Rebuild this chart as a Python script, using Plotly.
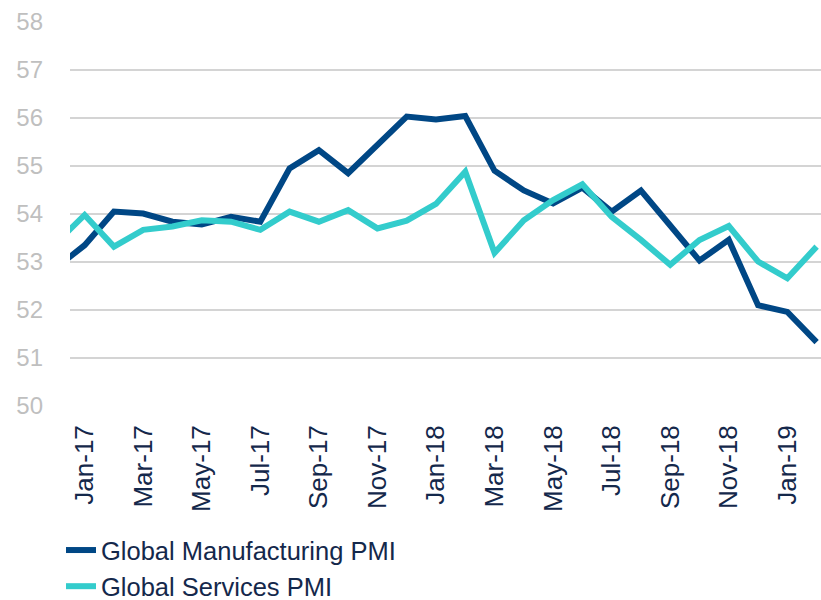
import plotly.graph_objects as go

months = ["Dec-16", "Jan-17", "Feb-17", "Mar-17", "Apr-17", "May-17", "Jun-17", "Jul-17",
          "Aug-17", "Sep-17", "Oct-17", "Nov-17", "Dec-17", "Jan-18", "Feb-18", "Mar-18",
          "Apr-18", "May-18", "Jun-18", "Jul-18", "Aug-18", "Sep-18", "Oct-18", "Nov-18",
          "Dec-18", "Jan-19", "Feb-19"]

manufacturing = [52.87, 53.35, 54.05, 54.01, 53.84, 53.78, 53.94, 53.84,
                 54.95, 55.33, 54.85, 55.44, 56.03, 55.97, 56.04, 54.90,
                 54.49, 54.22, 54.55, 54.05, 54.49, 53.76, 53.03, 53.46,
                 52.10, 51.96, 51.33]

services = [53.38, 53.98, 53.32, 53.67, 53.74, 53.87, 53.84, 53.67,
            54.05, 53.84, 54.08, 53.70, 53.86, 54.21, 54.88, 53.19,
            53.87, 54.29, 54.62, 53.94, 53.46, 52.94, 53.46, 53.75,
            53.01, 52.66, 53.32]

tick_labels = ["Jan-17", "Mar-17", "May-17", "Jul-17", "Sep-17", "Nov-17", "Jan-18",
               "Mar-18", "May-18", "Jul-18", "Sep-18", "Nov-18", "Jan-19"]

y_ticks = [50, 51, 52, 53, 54, 55, 56, 57, 58]

fig = go.Figure()
fig.add_trace(go.Scatter(x=months, y=manufacturing, mode="lines",
                         name="Global Manufacturing PMI",
                         line=dict(color="#004785", width=6)))
fig.add_trace(go.Scatter(x=months, y=services, mode="lines",
                         name="Global Services PMI",
                         line=dict(color="#33CCCC", width=6)))

fig.update_layout(
    width=821, height=600,
    margin=dict(l=70, r=0, t=22, b=194, autoexpand=False),
    paper_bgcolor="white", plot_bgcolor="white",
    font=dict(family="Liberation Sans, Arial, sans-serif"),
    showlegend=True,
    legend=dict(x=-0.012, xanchor="left", y=-0.315, yanchor="top",
                font=dict(size=25.5, color="#14284B"),
                tracegroupgap=0, itemwidth=30, bgcolor="rgba(0,0,0,0)"),
    xaxis=dict(type="category", categoryorder="array", categoryarray=months,
               range=[0.5, 26.15], tickmode="array", tickvals=tick_labels,
               ticktext=tick_labels, tickangle=-90, showgrid=False,
               showline=False, zeroline=False, ticks="", automargin=False,
               ticklabelstandoff=13,
               tickfont=dict(size=26, color="#14284B")),
    yaxis=dict(range=[50, 58], tickvals=y_ticks, showgrid=True,
               gridcolor="#D4D4D4", gridwidth=1.5, zeroline=False,
               showline=False, ticks="", ticklabelstandoff=26, automargin=False,
               tickfont=dict(size=24, color="#BFBFBF")),
)

fig.write_html("out.html", config={"displayModeBar": False},
               post_script="document.body.style.margin='0';document.body.style.overflow='hidden';")
